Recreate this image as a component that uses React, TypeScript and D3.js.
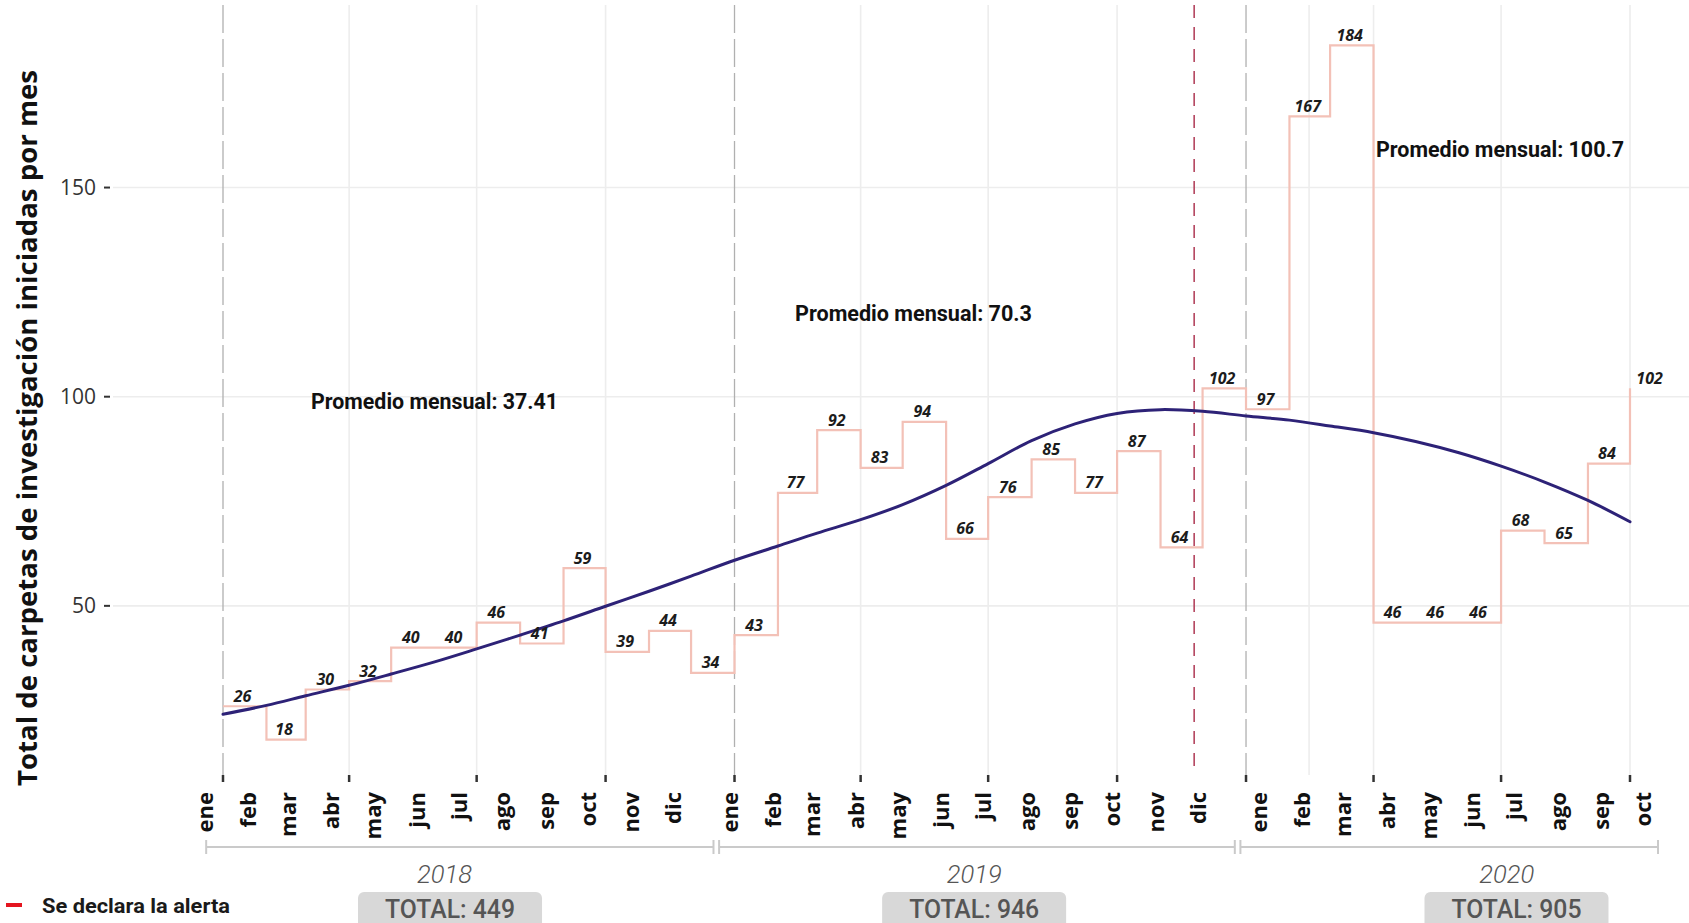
import React from 'react';
import * as d3 from 'd3';

// ---------- data ----------
const MONTHS = ['ene', 'feb', 'mar', 'abr', 'may', 'jun', 'jul', 'ago', 'sep', 'oct', 'nov', 'dic'];
const YEARS = [2018, 2019, 2020];
const VALUES_2018 = [26, 18, 30, 32, 40, 40, 46, 41, 59, 39, 44, 34];
const VALUES_2019 = [43, 77, 92, 83, 94, 66, 76, 85, 77, 87, 64, 102];
const VALUES_2020 = [97, 167, 184, 46, 46, 46, 68, 65, 84, 102];
// smoothed trend, one value per month
const TREND = [
  24.1, 26.2, 28.5, 31.0, 33.7, 36.6, 39.7, 43.0, 46.4, 49.9, 53.5, 57.1,
  60.9, 64.3, 67.4, 70.6, 74.2, 78.8, 84.0, 89.5, 93.5, 96.0, 96.9, 96.5,
  95.4, 94.4, 93.0, 91.4, 89.3, 86.6, 83.4, 79.6, 75.2, 70.1,
];
const TOTALS = [449, 946, 905];
const AVERAGES = ['37.41', '70.3', '100.7'];
const Y_TICKS = [50, 100, 150];
const ALERT_DATE = new Date(2019, 10, 25);
const EXTRA_GRID_DATE = new Date(2020, 1, 15);
const AXIS_TITLE = 'Total de carpetas de investigación iniciadas por mes';
const LEGEND_TEXT = 'Se declara la alerta';

// ---------- layout ----------
const W = 1689;
const H = 923;
const PANEL = { left: 113, right: 1689, top: 5, bottom: 775 };
const MONTH_LABEL_SHIFT = [-10, 3, 21];
const BRACKETS = [
  [new Date(2017, 11, 20), new Date(2018, 11, 17)],
  [new Date(2018, 11, 21), new Date(2019, 11, 24)],
  [new Date(2019, 11, 28), new Date(2020, 9, 21)],
];
const YEAR_LABEL_DATES = [new Date(2018, 5, 8), new Date(2019, 5, 21), new Date(2020, 6, 5)];
const TOTAL_BOX_DATES = [new Date(2018, 5, 12), new Date(2019, 5, 21), new Date(2020, 6, 12)];
const AVG_POS = [
  { x0: 311, w: 247, y: 408.5 },
  { x0: 795, w: 237, y: 320.7 },
  { x0: 1376, w: 248, y: 157 },
];

const FONT = "'Open Sans', 'Noto Sans', sans-serif";
const COND = "Roboto, 'Liberation Sans', sans-serif";

export default function App() {
  const x = d3.scaleTime().domain([new Date(2018, 0, 1), new Date(2020, 9, 1)]).range([223, 1630]);
  const y = d3.scaleLinear().domain([0, 100]).range([815, 396.7]);

  const series: { date: Date; next: Date; value: number; yi: number; m: number }[] = [];
  [VALUES_2018, VALUES_2019, VALUES_2020].forEach((vals, yi) =>
    vals.forEach((v, m) =>
      series.push({
        date: new Date(YEARS[yi], m, 1),
        next: new Date(YEARS[yi], m + 1, 1),
        value: v,
        yi,
        m,
      })
    )
  );

  const stepPath = d3
    .line<any>()
    .x((d) => x(d.date))
    .y((d) => y(d.value))
    .curve(d3.curveStepAfter)(series) as string;

  const trendPath = d3
    .line<number>()
    .x((_, i) => x(series[i].date))
    .y((d) => y(d))
    .curve(d3.curveCatmullRom)(TREND) as string;

  const quarters = series.filter((d) => d.m % 3 === 0);
  const yearStarts = quarters.filter((d) => d.m === 0);
  const gridQuarters = quarters.filter((d) => d.m !== 0);

  return (
    <svg
      width={W}
      height={H}
      style={{ position: 'fixed', left: 0, top: 0, background: '#fff' }}
      xmlns="http://www.w3.org/2000/svg"
    >
      <rect width={W} height={H} fill="#fff" />

      {/* horizontal grid */}
      {Y_TICKS.map((t) => (
        <line key={'hg' + t} x1={PANEL.left} x2={PANEL.right} y1={y(t)} y2={y(t)} stroke="#ededed" strokeWidth={1.6} />
      ))}
      {/* vertical grid */}
      {gridQuarters.map((d, i) => (
        <line key={'vg' + i} x1={x(d.date)} x2={x(d.date)} y1={PANEL.top} y2={PANEL.bottom} stroke="#ededed" strokeWidth={1.6} />
      ))}
      <line x1={x(EXTRA_GRID_DATE)} x2={x(EXTRA_GRID_DATE)} y1={PANEL.top} y2={PANEL.bottom} stroke="#ededed" strokeWidth={1.6} />

      {/* year start dashed lines */}
      {yearStarts.map((d, i) => (
        <line key={'ys' + i} x1={x(d.date)} x2={x(d.date)} y1={PANEL.top} y2={PANEL.bottom} stroke="#b0b0b0" strokeWidth={1.3} strokeDasharray="28,6" />
      ))}
      {/* alert line */}
      <line x1={x(ALERT_DATE)} x2={x(ALERT_DATE)} y1={PANEL.top} y2={PANEL.bottom} stroke="#b4455f" strokeWidth={1.6} strokeDasharray="13,9" />

      {/* step series */}
      <path d={stepPath} fill="none" stroke="#f3c1b7" strokeWidth={2.2} />

      {/* trend */}
      <path d={trendPath} fill="none" stroke="#2d2277" strokeWidth={3} strokeLinecap="round" />

      {/* value labels */}
      {series.map((d, i) => (
        <text
          key={'vl' + i}
          x={x(d.date) + (x(d.next) - x(d.date)) * 0.45}
          y={y(d.value) - 4.5}
          textAnchor="middle"
          fontFamily={FONT}
          fontStyle="italic"
          fontWeight={700}
          fontSize={16}
          fill="#1c1c1c"
        >
          {d.value}
        </text>
      ))}

      {/* averages */}
      {AVERAGES.map((a, i) => (
        <text
          key={'av' + i}
          x={AVG_POS[i].x0}
          y={AVG_POS[i].y}
          fontFamily={COND}
          fontWeight={700}
          fontSize={22}
          fill="#111"
          textLength={AVG_POS[i].w}
          lengthAdjust="spacingAndGlyphs"
        >
          {'Promedio mensual: ' + a}
        </text>
      ))}

      {/* y axis */}
      {Y_TICKS.map((t) => (
        <g key={'yt' + t}>
          <line x1={104} x2={110} y1={y(t)} y2={y(t)} stroke="#333" strokeWidth={2} />
          <text x={96} y={y(t)} dy="0.36em" textAnchor="end" fontFamily={FONT} fontWeight={500} fontSize={21} fill="#333">
            {t}
          </text>
        </g>
      ))}
      <text
        transform={`translate(37,428) rotate(-90)`}
        textAnchor="middle"
        fontFamily={FONT}
        fontWeight={700}
        fontSize={26}
        fill="#111"
        textLength={716}
        lengthAdjust="spacingAndGlyphs"
      >
        {AXIS_TITLE}
      </text>

      {/* x ticks */}
      {quarters.map((d, i) => (
        <line key={'xt' + i} x1={x(d.date)} x2={x(d.date)} y1={PANEL.bottom} y2={PANEL.bottom + 7} stroke="#333" strokeWidth={2.5} />
      ))}
      {/* month labels */}
      {series.map((d, i) => (
        <text
          key={'ml' + i}
          transform={`translate(${x(d.date) + MONTH_LABEL_SHIFT[d.yi]},792) rotate(-90)`}
          textAnchor="end"
          fontFamily={FONT}
          fontWeight={700}
          fontSize={22}
          fill="#111"
        >
          {MONTHS[d.m]}
        </text>
      ))}

      {/* year brackets */}
      {BRACKETS.map((b, i) => {
        const x0 = x(b[0]);
        const x1 = x(b[1]);
        return (
          <g key={'br' + i} stroke="#cacaca" strokeWidth={2}>
            <line x1={x0} x2={x1} y1={847} y2={847} />
            <line x1={x0} x2={x0} y1={840} y2={854} />
            <line x1={x1} x2={x1} y1={840} y2={854} />
          </g>
        );
      })}
      {YEARS.map((yr, i) => (
        <text
          key={'yl' + yr}
          x={x(YEAR_LABEL_DATES[i])}
          y={883}
          textAnchor="middle"
          fontFamily={COND}
          fontStyle="italic"
          fontWeight={300}
          fontSize={26}
          fill="#555"
          textLength={55}
          lengthAdjust="spacingAndGlyphs"
        >
          {yr}
        </text>
      ))}
      {TOTALS.map((t, i) => {
        const cx = x(TOTAL_BOX_DATES[i]);
        return (
          <g key={'tot' + i}>
            <rect x={cx - 92} y={892} width={184} height={40} rx={6} fill="#d8d8d8" />
            <text
              x={cx}
              y={918}
              textAnchor="middle"
              fontFamily={COND}
              fontWeight={500}
              fontSize={25}
              fill="#555"
              textLength={130}
              lengthAdjust="spacingAndGlyphs"
            >
              {'TOTAL: ' + t}
            </text>
          </g>
        );
      })}

      {/* legend */}
      <line x1={6} x2={22} y1={905} y2={905} stroke="#e4151f" strokeWidth={4} />
      <text
        x={42}
        y={913}
        fontFamily={COND}
        fontWeight={700}
        fontSize={21}
        fill="#1a1a1a"
        textLength={188}
        lengthAdjust="spacingAndGlyphs"
      >
        {LEGEND_TEXT}
      </text>
    </svg>
  );
}
